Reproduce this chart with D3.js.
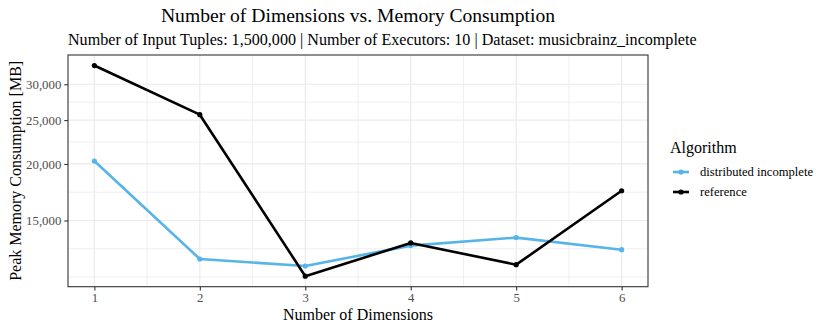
<!DOCTYPE html>
<html>
<head>
<meta charset="utf-8">
<script src="https://cdn.jsdelivr.net/npm/d3@7"></script>
<style>
  html, body { margin: 0; padding: 0; background: #fff; }
  svg { display: block; }
  text { font-family: "Liberation Serif", "Times New Roman", serif; }
</style>
</head>
<body>
<svg id="chart" width="830" height="332"></svg>
<script>
// ---- data ----
const dimensions = [1, 2, 3, 4, 5, 6];
const distributedIncomplete = [20300, 12330, 11900, 13200, 13750, 12930];
const referenceValues = [33000, 25700, 11300, 13380, 11980, 17450];
const seriesNames = ["distributed incomplete", "reference"];
const seriesColors = ["#56B4E9", "#000000"];
const yTickValues = [15000, 20000, 25000, 30000];
const xTickValues = [1, 2, 3, 4, 5, 6];
const titleText = "Number of Dimensions vs. Memory Consumption";
const subtitleText = "Number of Input Tuples: 1,500,000 | Number of Executors: 10 | Dataset: musicbrainz_incomplete";
const xLabel = "Number of Dimensions";
const yLabel = "Peak Memory Consumption [MB]";
const legendTitle = "Algorithm";

// ---- layout ----
const FONT = '"Liberation Serif", "Times New Roman", serif';
const svg = d3.select("#chart");
const panel = { left: 68, top: 55, right: 648, bottom: 286.7 };

const series = [
  { name: seriesNames[0], color: seriesColors[0], values: distributedIncomplete },
  { name: seriesNames[1], color: seriesColors[1], values: referenceValues }
];

// x scale with ggplot-like 5% expansion
const xMin = d3.min(dimensions), xMax = d3.max(dimensions);
const xPad = (xMax - xMin) * 0.05;
const x = d3.scaleLinear().domain([xMin - xPad, xMax + xPad]).range([panel.left, panel.right]);

// y log scale with 5% expansion in log space
const allVals = distributedIncomplete.concat(referenceValues);
const lMin = Math.log(d3.min(allVals)), lMax = Math.log(d3.max(allVals));
const lPad = (lMax - lMin) * 0.05;
const y = d3.scaleLog().domain([Math.exp(lMin - lPad), Math.exp(lMax + lPad)]).range([panel.bottom, panel.top]);

// minor breaks (ggplot regular_minor_breaks in log space)
const lt = yTickValues.map(Math.log);
const ext = [lt[0] - (lt[1] - lt[0])].concat(lt);
const yMinor = [];
for (let i = 0; i < ext.length - 1; i++) {
  if (i === 0) yMinor.push(Math.exp(ext[0]));
  yMinor.push(Math.exp((ext[i] + ext[i + 1]) / 2));
}
const xMinor = [];
for (let i = 0; i < xTickValues.length - 1; i++) xMinor.push((xTickValues[i] + xTickValues[i + 1]) / 2);

// panel background
svg.append("rect").attr("x", panel.left).attr("y", panel.top)
  .attr("width", panel.right - panel.left).attr("height", panel.bottom - panel.top)
  .attr("fill", "#fff");

const grid = svg.append("g");
grid.selectAll(".ymin").data(yMinor.filter(v => y(v) >= panel.top && y(v) <= panel.bottom)).enter().append("line")
  .attr("x1", panel.left).attr("x2", panel.right)
  .attr("y1", d => y(d)).attr("y2", d => y(d))
  .attr("stroke", "#ebebeb").attr("stroke-width", 0.8);
grid.selectAll(".xmin").data(xMinor).enter().append("line")
  .attr("y1", panel.top).attr("y2", panel.bottom)
  .attr("x1", d => x(d)).attr("x2", d => x(d))
  .attr("stroke", "#ebebeb").attr("stroke-width", 0.8);
grid.selectAll(".ymaj").data(yTickValues).enter().append("line")
  .attr("x1", panel.left).attr("x2", panel.right)
  .attr("y1", d => y(d)).attr("y2", d => y(d))
  .attr("stroke", "#ebebeb").attr("stroke-width", 1.2);
grid.selectAll(".xmaj").data(xTickValues).enter().append("line")
  .attr("y1", panel.top).attr("y2", panel.bottom)
  .attr("x1", d => x(d)).attr("x2", d => x(d))
  .attr("stroke", "#ebebeb").attr("stroke-width", 1.2);

// lines & points
const line = d3.line().x((d, i) => x(dimensions[i])).y(d => y(d));
series.forEach(s => {
  svg.append("path").datum(s.values)
    .attr("d", line).attr("fill", "none")
    .attr("stroke", s.color).attr("stroke-width", 2.6)
    .attr("stroke-linejoin", "round");
  svg.selectAll(null).data(s.values).enter().append("circle")
    .attr("cx", (d, i) => x(dimensions[i])).attr("cy", d => y(d))
    .attr("r", 2.6).attr("fill", s.color);
});

// panel border
svg.append("rect").attr("x", panel.left).attr("y", panel.top)
  .attr("width", panel.right - panel.left).attr("height", panel.bottom - panel.top)
  .attr("fill", "none").attr("stroke", "#333333").attr("stroke-width", 1.1);

// axes
const fmt = d3.format(",");
const xAxis = d3.axisBottom(x).tickValues(xTickValues).tickSize(3.7).tickPadding(3).tickFormat(d3.format("d"));
const yAxis = d3.axisLeft(y).tickValues(yTickValues).tickSize(3.7).tickPadding(3).tickFormat(fmt);

const gx = svg.append("g").attr("transform", `translate(0,${panel.bottom})`).call(xAxis);
const gy = svg.append("g").attr("transform", `translate(${panel.left},0)`).call(yAxis);
[gx, gy].forEach(g => {
  g.attr("font-family", FONT).attr("font-size", 12.8);
  g.select(".domain").remove();
  g.selectAll(".tick line").attr("stroke", "#333333").attr("stroke-width", 1.1);
  g.selectAll(".tick text").attr("fill", "#4d4d4d")
    .style("font-family", FONT).style("font-size", "12.8px");
});

// titles
svg.append("text").attr("x", (panel.left + panel.right) / 2).attr("y", 22)
  .attr("text-anchor", "middle").style("font-size", "19.6px").attr("fill", "#000").text(titleText);
svg.append("text").attr("x", panel.left).attr("y", 45)
  .attr("text-anchor", "start").style("font-size", "16.1px").attr("fill", "#000").text(subtitleText);
svg.append("text").attr("x", (panel.left + panel.right) / 2).attr("y", 320)
  .attr("text-anchor", "middle").style("font-size", "16px").attr("fill", "#000").text(xLabel);
svg.append("text")
  .attr("transform", `translate(21,${(panel.top + panel.bottom) / 2}) rotate(-90)`)
  .attr("text-anchor", "middle").style("font-size", "16px").attr("fill", "#000").text(yLabel);

// legend
const lg = svg.append("g").attr("transform", "translate(670,0)");
lg.append("text").attr("x", 0).attr("y", 153).style("font-size", "16px").attr("fill", "#000").text(legendTitle);
series.forEach((s, i) => {
  const cy = 172 + i * 20;
  lg.append("line").attr("x1", 3).attr("x2", 19).attr("y1", cy).attr("y2", cy)
    .attr("stroke", s.color).attr("stroke-width", 2.6);
  lg.append("circle").attr("cx", 11).attr("cy", cy).attr("r", 2.6).attr("fill", s.color);
  lg.append("text").attr("x", 30).attr("y", cy + 4).style("font-size", "12.6px").attr("fill", "#000").text(s.name);
});
</script>
</body>
</html>
